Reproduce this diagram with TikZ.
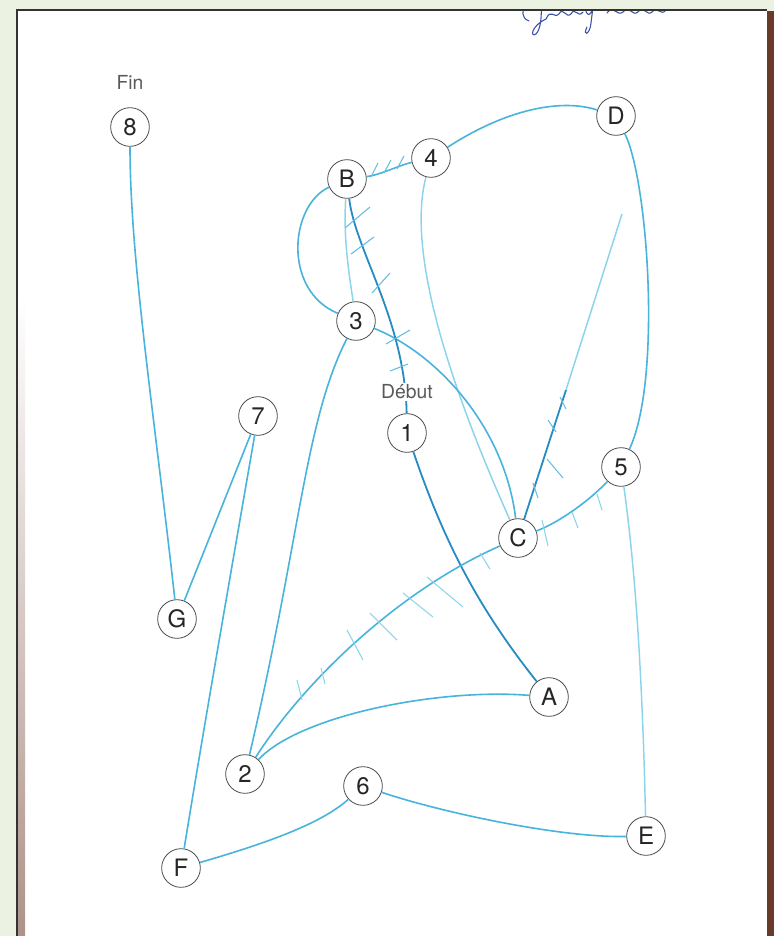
\documentclass[tikz,border=0pt]{standalone}
\usepackage{fontspec}
\setmainfont{TeX Gyre Heros}
\definecolor{bg}{RGB}{236,242,226}
\definecolor{penD}{RGB}{38,138,195}
\definecolor{penM}{RGB}{72,180,220}
\definecolor{penL}{RGB}{140,212,236}
\definecolor{ink}{RGB}{60,80,165}
\definecolor{edgebrown}{RGB}{105,58,42}
\begin{document}
\begin{tikzpicture}[x=0.75pt,y=-0.75pt,
  vertex/.style={circle,draw=black!70,line width=0.6pt,minimum size=29pt,inner sep=0pt,
    font=\fontsize{18}{20}\selectfont,text=black!85},
  tag/.style={font=\fontsize{14.5}{16}\selectfont,text=black!65,inner sep=1pt},
  edgeD/.style={draw=penD,line width=1.35pt},
  edgeM/.style={draw=penM,line width=1.2pt},
  edgeL/.style={draw=penL,line width=1.1pt},
  tick/.style={draw=penM!85,line width=0.8pt},
  tickL/.style={draw=penL,line width=0.8pt},
  hand/.style={draw=ink,line width=0.8pt,line cap=round},
]
\useasboundingbox (0,0) rectangle (774,936);
% page / scan
\fill[bg] (0,0) rectangle (774,936);
\fill[white] (17,10) rectangle (767,936);
\shade[top color=white,bottom color=edgebrown!55] (18,300) rectangle (25,936);
\fill[edgebrown] (767,11) rectangle (774,936);
\draw[black!80,line width=1.5pt] (16.5,936) -- (16.5,10) -- (767,10);

% handwriting (cut off at top of the sheet)
\begin{scope}
\clip (17,11) rectangle (767,60);
\draw[hand] (528,4) .. controls (521,10) and (521,18) .. (529,21);
\draw[hand]
  (541,0) .. controls (542,15) and (541,29) .. (536,34) .. controls (530,38) and (531,26) .. (546,19)
  .. controls (551,8) and (554,19) .. (559,14) .. controls (563,6) and (566,19) .. (571,14)
  .. controls (575,6) and (578,19) .. (583,12);
\draw[hand]
  (586,7) .. controls (585,17) and (591,17) .. (593,7) -- (591,23) .. controls (590,35) and (582,37) .. (587,27);
\draw[hand]
  (607,13) .. controls (613,4) and (617,17) .. (623,12) .. controls (629,4) and (632,17) .. (638,12)
  .. controls (643,4) and (647,17) .. (652,12) .. controls (657,5) and (661,17) .. (666,10);
\end{scope}

% vertices
\node[vertex] (n8) at (130,127) {8};
\node[vertex] (nB) at (347,179) {B};
\node[vertex] (n4) at (431,158) {4};
\node[vertex] (nD) at (616,116) {D};
\node[vertex] (n3) at (356,321) {3};
\node[vertex] (n1) at (407,433) {1};
\node[vertex] (n7) at (258,416) {7};
\node[vertex] (n5) at (621,467) {5};
\node[vertex] (nC) at (518,538) {C};
\node[vertex] (nG) at (177,619) {G};
\node[vertex] (nA) at (549,697) {A};
\node[vertex] (n2) at (245,774) {2};
\node[vertex] (n6) at (363,786) {6};
\node[vertex] (nE) at (646,836) {E};
\node[vertex] (nF) at (181,868) {F};
\coordinate (cdMid) at (566,390);
\coordinate (cdEnd) at (622,214);

% edges
\draw[edgeM] (n8) .. controls (130,260) and (155,420) .. (nG);
\draw[edgeM] (nG) -- (n7);
\draw[edgeM] (n7) .. controls (240,520) and (205,720) .. (nF);
\draw[edgeM] (nF) .. controls (260,845) and (320,825) .. (n6);
\draw[edgeM] (n6) .. controls (440,812) and (560,838) .. (nE);
\draw[edgeL] (n5) .. controls (640,600) and (644,750) .. (nE);
\draw[edgeM] (n5) .. controls (662,380) and (648,180) .. (nD);
\draw[edgeM] (nD) .. controls (560,98) and (505,110) .. (n4);
\draw[edgeM] (nB) .. controls (380,175) and (400,165) .. (n4);
\draw[edgeL] (n4) .. controls (412,230) and (425,330) .. (nC);
\draw[edgeM] (n3) .. controls (440,355) and (505,430) .. (nC);
\draw[edgeD] (nC) -- (cdMid);
\draw[edgeL] (cdMid) -- (cdEnd);
\draw[edgeM] (nB) .. controls (290,205) and (282,290) .. (n3);
\draw[edgeL] (nB) .. controls (343,240) and (350,280) .. (n3);
\draw[edgeD] (nB) .. controls (355,250) and (405,320) .. (n1);
\draw[edgeM] (n3) .. controls (305,420) and (300,540) .. (n2);
\draw[edgeD] (n1) .. controls (445,545) and (480,610) .. (nA);
\draw[edgeM] (nA) .. controls (440,688) and (300,715) .. (n2);
\draw[edgeM] (n2) .. controls (305,680) and (400,590) .. (nC);
\draw[edgeM] (nC) .. controls (560,522) and (590,500) .. (n5);

% hatching ticks
\foreach \a/\b/\c/\d in {297/680/302/700, 321/668/325/684, 347/630/363/660, 370/613/397/640,
    403/593/433/617, 427/577/463/607, 480/553/490/569, 542/520/548/546, 572/512/578/528,
    597/494/602/510}
  {\draw[tickL] (\a,\b) -- (\c,\d);}
\foreach \a/\b/\c/\d in {533/483/538/498, 547/459/563/478, 548/420/556/432, 560/397/566/409}
  {\draw[tick] (\a,\b) -- (\c,\d);}
\foreach \a/\b/\c/\d in {371/177/378/163, 384/173/391/160, 397/169/404/156}
  {\draw[tick] (\a,\b) -- (\c,\d);}
\foreach \a/\b/\c/\d in {345/228/370/207, 351/254/374/237, 372/293/390/273, 386/344/410/330,
    390/371/408/364}
  {\draw[tick] (\a,\b) -- (\c,\d);}

% labels
\node[tag] (lfin) at (130,82) {Fin};
\node[tag,fill=white] (ldebut) at (407,392) {Début};
\end{tikzpicture}
\end{document}
